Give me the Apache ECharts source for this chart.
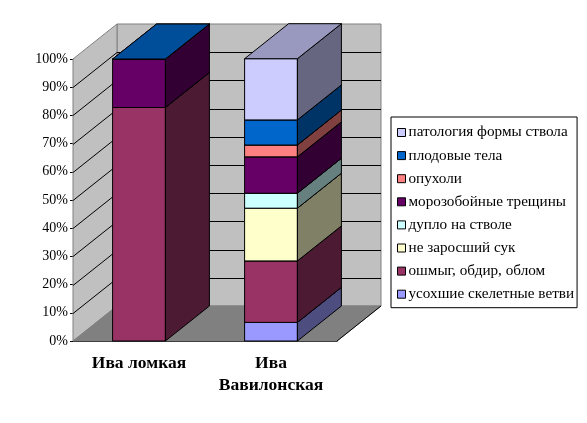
<html>
<head>
<meta charset="utf-8">
<script type="text/javascript" src="https://cdn.jsdelivr.net/npm/echarts@6/dist/echarts.min.js"></script>
</head>
<body style="margin: 0; padding: 0; background: #fff;">
<div id="myChart" style="width: 587px; height: 423px;"></div>
<script type="text/javascript">
var categories = ['Ива ломкая', 'Ива\nВавилонская'];
var seriesNames = ['усохшие скелетные ветви', 'ошмыг, обдир, облом', 'не заросший сук', 'дупло на стволе',
	'морозобойные трещины', 'опухоли', 'плодовые тела', 'патология формы ствола'];
var colors = ['#9999FF', '#993366', '#FFFFCC', '#CCFFFF', '#660066', '#FF8080', '#0066CC', '#CCCCFF'];
// percent of trees per category
var usokhshie = [null, 6.6];
var oshmyg = [82.8, 21.8];
var nezarosshiy = [null, 18.7];
var duplo = [null, 5.3];
var morozoboinye = [17.2, 12.9];
var opukholi = [null, 4.2];
var plodovye = [0, 8.9];
var patologiya = [null, 21.7];
var yTicks = [0, 10, 20, 30, 40, 50, 60, 70, 80, 90, 100];

var values = [usokhshie, oshmyg, nezarosshiy, duplo, morozoboinye, opukholi, plodovye, patologiya];
var DX = 44, DY = -35;
var serif = '"Liberation Serif", "Times New Roman", serif';

function shade(hex, k) {
	var n = parseInt(hex.slice(1), 16);
	var r = Math.round(((n >> 16) & 255) * k), g = Math.round(((n >> 8) & 255) * k), b = Math.round((n & 255) * k);
	return 'rgb(' + r + ',' + g + ',' + b + ')';
}

function wallsItem(params, api) {
	var cs = params.coordSys;
	var l = cs.x, r = cs.x + cs.width, t = cs.y, b = cs.y + cs.height;
	var kids = [];
	var wall = {fill: '#C0C0C0', stroke: '#808080', lineWidth: 1};
	kids.push({type: 'polygon', shape: {points: [[l + DX, t + DY], [r + DX, t + DY], [r + DX, b + DY], [l + DX, b + DY]]}, style: wall});
	kids.push({type: 'polygon', shape: {points: [[l, b], [l + DX, b + DY], [l + DX, t + DY], [l, t]]}, style: wall});
	kids.push({type: 'polygon', shape: {points: [[l, b], [r, b], [r + DX, b + DY], [l + DX, b + DY]]}, style: {fill: '#808080', stroke: '#808080', lineWidth: 1}});
	kids.push({type: 'line', shape: {x1: r, y1: b, x2: r + DX, y2: b + DY}, style: {stroke: '#000', lineWidth: 1}});
	for (var i = 1; i < yTicks.length - 1; i++) {
		var y = Math.round(api.coord([0, yTicks[i]])[1]) + 0.5;
		kids.push({type: 'polyline', shape: {points: [[l, y], [l + DX, y + DY], [r + DX, y + DY]]}, style: {stroke: '#000', lineWidth: 1, fill: null}});
	}
	return {type: 'group', children: kids};
}

function boxItem(params, api) {
	var c = colors[params.seriesIndex - 1];
	var xc = api.coord([api.value(0), 0])[0];
	var yb = api.coord([api.value(0), api.value(1)])[1];
	var yt = api.coord([api.value(0), api.value(2)])[1];
	var w = api.size([1, 0])[0] * 0.4;
	var x0 = xc - w / 2, x1 = xc + w / 2;
	var edge = {stroke: '#000', lineWidth: 1};
	return {type: 'group', children: [
		{type: 'polygon', shape: {points: [[x0, yb], [x1, yb], [x1, yt], [x0, yt]]}, style: Object.assign({fill: c}, edge)},
		{type: 'polygon', shape: {points: [[x1, yb], [x1 + DX, yb + DY], [x1 + DX, yt + DY], [x1, yt]]}, style: Object.assign({fill: shade(c, 0.5)}, edge)},
		{type: 'polygon', shape: {points: [[x0, yt], [x1, yt], [x1 + DX, yt + DY], [x0 + DX, yt + DY]]}, style: Object.assign({fill: shade(c, 0.75)}, edge)}
	]};
}

var series = [{type: 'custom', name: 'walls', z: 1, silent: true, renderItem: wallsItem, data: [[0, 0]]}];
var base = [0, 0];
for (var s = 0; s < seriesNames.length; s++) {
	var data = [];
	for (var k = 0; k < categories.length; k++) {
		var v = values[s][k];
		if (v === null) continue;
		data.push([k, base[k], base[k] + v]);
		base[k] += v;
	}
	series.push({type: 'custom', name: seriesNames[s], z: 2, renderItem: boxItem, itemStyle: {color: colors[s]}, data: data});
}

var option = {
	animation: false,
	grid: {left: 73, right: 250, top: 59, bottom: 82},
	xAxis: {
		type: 'category',
		data: categories,
		axisLine: {lineStyle: {color: '#000', width: 1}},
		axisTick: {length: 5, lineStyle: {color: '#000'}},
		axisLabel: {interval: 0, hideOverlap: false, color: '#000', fontFamily: serif, fontWeight: 'bold', fontSize: 17.5, lineHeight: 22, margin: 11}
	},
	yAxis: {
		type: 'value', min: 0, max: 100, interval: 10,
		axisLine: {show: true, lineStyle: {color: '#000', width: 1}},
		axisTick: {show: true, length: 3, lineStyle: {color: '#000'}},
		splitLine: {show: false},
		axisLabel: {color: '#000', fontFamily: serif, fontSize: 14, margin: 5, formatter: '{value}%'}
	},
	legend: {
		data: seriesNames.slice().reverse(),
		orient: 'vertical', left: 391, top: 117,
		icon: 'rect', itemWidth: 8, itemHeight: 8, itemGap: 8.1,
		borderColor: '#000', borderWidth: 1, padding: [8, 3, 6, 6],
		itemStyle: {borderColor: '#000', borderWidth: 1},
		textStyle: {color: '#000', fontFamily: serif, fontSize: 15.2, lineHeight: 14, padding: [0, 0, 0, -2]}
	},
	series: series
};
echarts.init(document.getElementById('myChart')).setOption(option);
</script>
</body>
</html>
